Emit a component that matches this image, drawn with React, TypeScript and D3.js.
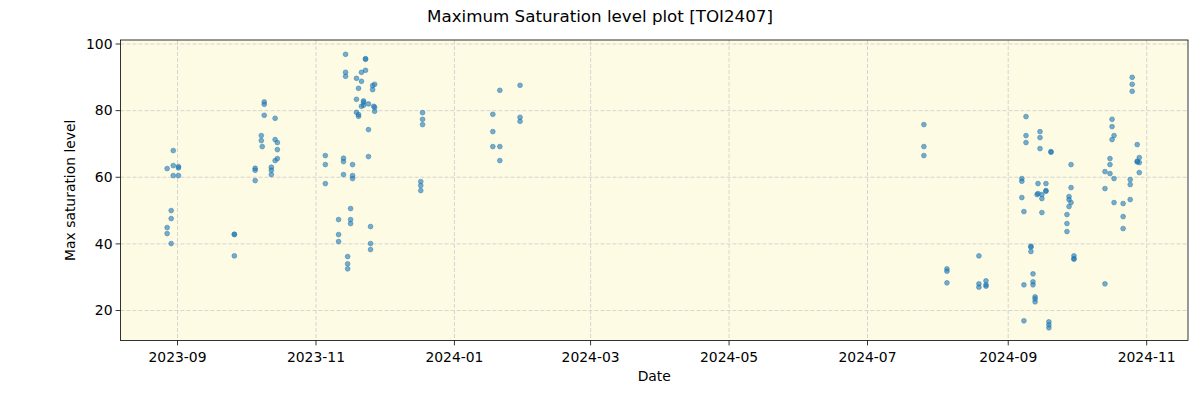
import React from "react";
import * as d3 from "d3";

const title = "Maximum Saturation level plot [TOI2407]";
const xLabel = "Date";
const yLabel = "Max saturation level";
const xTickDates = ["2023-09-01", "2023-11-01", "2024-01-01", "2024-03-01", "2024-05-01", "2024-07-01", "2024-09-01", "2024-11-01"];
const xTickLabels = ["2023-09", "2023-11", "2024-01", "2024-03", "2024-05", "2024-07", "2024-09", "2024-11"];
const yTicks = [20, 40, 60, 80, 100];
const xDomain = ["2023-08-06T21:00", "2024-11-19T05:00"];
const yDomain = [11, 101.2];

// observation times (grouped, three per visit mostly)
const obsDates = [
  "2023-08-27T10:00", "2023-08-27T10:00", "2023-08-27T10:00",
  "2023-08-29T05:00", "2023-08-29T05:00", "2023-08-29T05:00",
  "2023-08-30T03:00", "2023-08-30T03:00", "2023-08-30T03:00",
  "2023-09-01T10:00", "2023-09-01T10:00", "2023-09-01T10:00",
  "2023-09-26T01:00", "2023-09-26T01:00", "2023-09-26T01:00",
  "2023-10-05T05:00", "2023-10-05T05:00", "2023-10-05T05:00",
  "2023-10-07T22:00", "2023-10-07T22:00", "2023-10-08T08:00",
  "2023-10-09T05:00", "2023-10-09T05:00", "2023-10-09T05:00",
  "2023-10-12T08:00", "2023-10-12T08:00", "2023-10-12T08:00",
  "2023-10-14T00:00", "2023-10-14T00:00", "2023-10-14T00:00",
  "2023-10-15T00:00", "2023-10-15T00:00", "2023-10-15T00:00",
  "2023-11-05T03:00", "2023-11-05T03:00", "2023-11-05T03:00",
  "2023-11-10T23:00", "2023-11-10T23:00", "2023-11-10T23:00",
  "2023-11-13T03:00", "2023-11-13T03:00", "2023-11-13T03:00",
  "2023-11-14T01:00", "2023-11-14T01:00", "2023-11-14T01:00",
  "2023-11-14T23:00", "2023-11-14T23:00", "2023-11-14T23:00",
  "2023-11-16T06:00", "2023-11-16T06:00", "2023-11-16T06:00",
  "2023-11-17T03:00", "2023-11-17T03:00", "2023-11-17T03:00",
  "2023-11-18T20:00", "2023-11-18T20:00", "2023-11-18T20:00",
  "2023-11-19T18:00", "2023-11-19T18:00", "2023-11-19T18:00",
  "2023-11-21T01:00", "2023-11-21T01:00", "2023-11-21T01:00",
  "2023-11-21T23:00", "2023-11-21T23:00", "2023-11-21T23:00",
  "2023-11-22T20:00", "2023-11-22T20:00", "2023-11-22T20:00",
  "2023-11-24T03:00", "2023-11-24T03:00", "2023-11-24T03:00",
  "2023-11-25T01:00", "2023-11-25T01:00", "2023-11-25T01:00",
  "2023-11-25T23:00", "2023-11-25T23:00", "2023-11-26T11:00",
  "2023-11-26T20:00", "2023-11-26T20:00", "2023-11-26T20:00",
  "2023-12-17T04:00", "2023-12-17T04:00", "2023-12-17T04:00",
  "2023-12-17T23:00", "2023-12-17T23:00", "2023-12-17T23:00",
  "2024-01-17T22:00", "2024-01-17T22:00", "2024-01-17T22:00",
  "2024-01-21T00:00", "2024-01-21T00:00", "2024-01-21T00:00",
  "2024-01-29T22:00", "2024-01-29T22:00", "2024-01-29T22:00",
  "2024-07-25T20:00", "2024-07-25T20:00", "2024-07-25T20:00",
  "2024-08-05T00:00", "2024-08-05T00:00", "2024-08-05T00:00",
  "2024-08-19T02:00", "2024-08-19T02:00", "2024-08-19T02:00",
  "2024-08-22T05:00", "2024-08-22T05:00", "2024-08-22T05:00",
  "2024-09-07T00:00", "2024-09-07T00:00", "2024-09-07T00:00",
  "2024-09-07T22:00", "2024-09-07T22:00", "2024-09-07T22:00",
  "2024-09-08T20:00", "2024-09-08T20:00", "2024-09-08T20:00",
  "2024-09-11T00:00", "2024-09-11T00:00", "2024-09-11T00:00",
  "2024-09-11T22:00", "2024-09-11T22:00", "2024-09-11T22:00",
  "2024-09-12T20:00", "2024-09-12T20:00", "2024-09-12T20:00",
  "2024-09-13T17:00", "2024-09-14T03:00", "2024-09-14T03:00",
  "2024-09-15T00:00", "2024-09-15T00:00", "2024-09-15T00:00",
  "2024-09-15T20:00", "2024-09-15T20:00", "2024-09-15T20:00",
  "2024-09-17T15:00", "2024-09-17T15:00", "2024-09-17T15:00",
  "2024-09-18T22:00", "2024-09-18T22:00", "2024-09-18T22:00",
  "2024-09-19T20:00", "2024-09-19T20:00",
  "2024-09-26T21:00", "2024-09-26T21:00", "2024-09-26T21:00",
  "2024-09-27T19:00", "2024-09-27T19:00", "2024-09-27T19:00",
  "2024-09-28T16:00", "2024-09-28T16:00", "2024-09-28T16:00",
  "2024-09-29T23:00", "2024-09-29T23:00", "2024-09-29T23:00",
  "2024-10-13T15:00", "2024-10-13T15:00", "2024-10-13T15:00",
  "2024-10-15T20:00", "2024-10-15T20:00", "2024-10-15T20:00",
  "2024-10-16T18:00", "2024-10-16T18:00", "2024-10-16T18:00",
  "2024-10-17T15:00", "2024-10-17T15:00", "2024-10-17T15:00",
  "2024-10-21T15:00", "2024-10-21T15:00", "2024-10-21T15:00",
  "2024-10-24T18:00", "2024-10-24T18:00", "2024-10-24T18:00",
  "2024-10-25T15:00", "2024-10-25T15:00", "2024-10-25T15:00",
  "2024-10-27T20:00", "2024-10-27T20:00", "2024-10-27T20:00",
  "2024-10-28T18:00", "2024-10-28T18:00", "2024-10-28T18:00",
];

const obsValues = [
  62.6, 44.9, 43.1,
  50.0, 47.6, 40.1,
  68.0, 63.5, 60.5,
  63.2, 62.8, 60.5,
  42.9, 42.8, 36.4,
  62.7, 62.1, 59.0,
  72.5, 71.0, 69.2,
  82.6, 81.9, 78.6,
  63.0, 62.1, 60.8,
  77.7, 71.3, 65.0,
  70.4, 68.3, 65.6,
  66.5, 63.8, 58.1,
  47.3, 42.8, 40.7,
  65.7, 64.7, 60.8,
  96.9, 91.5, 90.3,
  36.2, 34.0, 32.5,
  50.6, 47.3, 46.1,
  63.8, 60.5, 59.6,
  89.7, 83.4, 79.5,
  86.7, 78.8, 78.3,
  91.5, 88.8, 81.3,
  82.9, 82.5, 81.6,
  95.6, 95.4, 92.1,
  82.0, 74.3, 66.2,
  45.2, 40.1, 38.3,
  87.5, 86.3, 81.3,
  87.9, 81.0, 79.8,
  58.7, 57.5, 56.0,
  79.4, 77.4, 75.8,
  78.9, 73.7, 69.2,
  86.1, 69.2, 65.0,
  87.6, 78.0, 76.8,
  75.8, 69.2, 66.5,
  32.5, 31.8, 28.3,
  36.4, 28.0, 27.0,
  28.9, 27.7, 27.3,
  59.6, 58.8, 53.9,
  49.7, 27.7, 16.9,
  78.2, 72.5, 70.4,
  39.3, 39.0, 37.7,
  31.0, 28.6, 27.7,
  24.1, 23.5, 22.6,
  54.8, 58.1, 55.1,
  73.7, 71.9, 68.6,
  54.8, 53.6, 49.4,
  58.1, 56.0, 55.8,
  16.6, 15.7, 14.8,
  67.7, 67.5,
  48.8, 46.1, 43.7,
  54.2, 53.3, 51.2,
  63.8, 56.9, 52.4,
  36.4, 35.6, 35.4,
  61.7, 56.6, 28.0,
  65.6, 63.8, 61.1,
  77.4, 75.2, 71.3,
  72.5, 59.6, 52.4,
  52.1, 48.2, 44.6,
  59.3, 57.8, 53.3,
  90.0, 87.9, 85.8,
  69.8, 64.8, 64.6,
  65.9, 64.4, 61.4,
];

const W = 1200;
const H = 400;
const M = { left: 120.5, right: 1188, top: 40, bottom: 340.5 };
const FONT = "DejaVu Sans, sans-serif";

export default function App() {
  const parse = (s: string) => new Date(s);
  const x = d3.scaleTime().domain(xDomain.map(parse)).range([M.left, M.right]);
  const y = d3.scaleLinear().domain(yDomain).range([M.bottom, M.top]);
  const points = obsDates.map((d, i) => ({ d: parse(d), v: obsValues[i] }));

  return (
    <svg width={W} height={H} style={{ position: "absolute", left: 0, top: 0, background: "#fff" }}
      fontFamily={FONT}>
      <rect x={0} y={0} width={W} height={H} fill="#ffffff" />
      <rect x={M.left} y={M.top} width={M.right - M.left} height={M.bottom - M.top} fill="#fdfbe3" />
      {xTickDates.map((t) => (
        <line key={"gx" + t} x1={x(parse(t))} x2={x(parse(t))} y1={M.top} y2={M.bottom}
          stroke="#cccccc" strokeWidth={0.8} strokeDasharray="4,2" />
      ))}
      {yTicks.map((t) => (
        <line key={"gy" + t} x1={M.left} x2={M.right} y1={y(t)} y2={y(t)}
          stroke="#cccccc" strokeWidth={0.8} strokeDasharray="4,2" />
      ))}
      {points.map((p, i) => (
        <circle key={i} cx={x(p.d)} cy={y(p.v)} r={2.4} fill="#1f77b4" fillOpacity={0.6}
          stroke="#1f77b4" strokeOpacity={0.6} strokeWidth={0.8} />
      ))}
      <rect x={M.left} y={M.top} width={M.right - M.left} height={M.bottom - M.top} fill="none"
        stroke="#000" strokeWidth={0.8} />
      {xTickDates.map((t, i) => (
        <g key={"tx" + t}>
          <line x1={x(parse(t))} x2={x(parse(t))} y1={M.bottom} y2={M.bottom + 4.9} stroke="#000" strokeWidth={0.8} />
          <text x={x(parse(t))} y={362} textAnchor="middle" fontSize={13.9} fill="#000">{xTickLabels[i]}</text>
        </g>
      ))}
      {yTicks.map((t) => (
        <g key={"ty" + t}>
          <line x1={M.left - 4.9} x2={M.left} y1={y(t)} y2={y(t)} stroke="#000" strokeWidth={0.8} />
          <text x={M.left - 8} y={y(t)} dy="0.35em" textAnchor="end" fontSize={13.9} fill="#000">{t}</text>
        </g>
      ))}
      <text x={(M.left + M.right) / 2} y={381} textAnchor="middle" fontSize={13.9} fill="#000">{xLabel}</text>
      <text transform={`translate(75, ${(M.top + M.bottom) / 2}) rotate(-90)`} textAnchor="middle"
        fontSize={13.9} fill="#000">{yLabel}</text>
      <text x={600} y={22} textAnchor="middle" fontSize={16.7} fill="#000">{title}</text>
    </svg>
  );
}
